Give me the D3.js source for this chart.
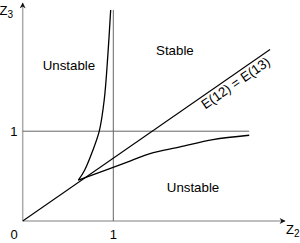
<!DOCTYPE html>
<html>
<head>
<meta charset="utf-8">
<script src="https://cdn.jsdelivr.net/npm/d3@7"></script>
<style>
  body { margin: 0; background: #fff; }
  svg { display: block; font-family: "Liberation Sans", Arial, sans-serif; }
</style>
</head>
<body>
<div id="chart"></div>
<script>
// Stability boundaries in the (z2, z3) plane
var diagonal = [[0, 0], [2.73, 1.91]];          // E(12) = E(13)
var upperCurve = [[0.614, 0.454], [0.68, 0.56], [0.76, 0.75], [0.845, 1.0],
                  [0.90, 1.35], [0.94, 1.85], [0.971, 2.35]];
var lowerCurve = [[0.614, 0.454], [1.184, 0.666], [1.405, 0.751],
                  [1.736, 0.825], [2.10, 0.907], [2.50, 0.955]];
var gridV = [[1, 0], [1, 2.35]];
var gridH = [[0, 1], [2.5, 1]];
var xTicks = ["0", "1"];
var yTicks = ["1"];
var regionLabels = [
  { text: "Unstable", z2: 0.51, z3: 1.68 },
  { text: "Stable",   z2: 1.68, z3: 1.85 },
  { text: "Unstable", z2: 1.88, z3: 0.32 }
];

var width = 300, height = 243;

var x = d3.scaleLinear().domain([0, 1]).range([22.7, 113.3]);
var y = d3.scaleLinear().domain([0, 1]).range([221, 131.2]);

var svg = d3.select("#chart").append("svg")
    .attr("width", width)
    .attr("height", height);

var defs = svg.append("defs");
defs.append("marker")
    .attr("id", "arrow")
    .attr("viewBox", "0 0 10 10")
    .attr("refX", 9).attr("refY", 5)
    .attr("markerWidth", 9).attr("markerHeight", 6)
    .attr("markerUnits", "userSpaceOnUse")
    .attr("orient", "auto")
    .append("path")
    .attr("d", "M0,0 L10,5 L0,10 L3,5 Z")
    .attr("fill", "#111");

var line = d3.line().x(function (d) { return x(d[0]); }).y(function (d) { return y(d[1]); });
var curve = d3.line().curve(d3.curveCatmullRom.alpha(0.5))
    .x(function (d) { return x(d[0]); }).y(function (d) { return y(d[1]); });

// axes
svg.append("line")
    .attr("x1", x(0)).attr("y1", y(0))
    .attr("x2", x(0)).attr("y2", 3)
    .attr("stroke", "#aaa").attr("stroke-width", 1.5)
    .attr("marker-end", "url(#arrow)");
svg.append("line")
    .attr("x1", x(0)).attr("y1", y(0))
    .attr("x2", 285).attr("y2", y(0))
    .attr("stroke", "#aaa").attr("stroke-width", 1.5)
    .attr("marker-end", "url(#arrow)");

// reference lines at 1
svg.append("path").attr("d", line(gridV))
    .attr("fill", "none").attr("stroke", "#666").attr("stroke-width", 1);
svg.append("path").attr("d", line(gridH))
    .attr("fill", "none").attr("stroke", "#666").attr("stroke-width", 1);

// boundaries
svg.append("path").attr("d", line(diagonal))
    .attr("fill", "none").attr("stroke", "#000").attr("stroke-width", 1.1);
svg.append("path").attr("d", curve(upperCurve))
    .attr("fill", "none").attr("stroke", "#000").attr("stroke-width", 1.3);
svg.append("path").attr("d", curve(lowerCurve))
    .attr("fill", "none").attr("stroke", "#000").attr("stroke-width", 1.3);

// tick labels
svg.selectAll(".xtick").data(xTicks).enter().append("text")
    .attr("class", "xtick")
    .attr("x", function (d, i) { return i === 0 ? 14 : x(+d); })
    .attr("y", 239)
    .attr("text-anchor", "middle")
    .style("font-size", "13px")
    .text(function (d) { return d; });
svg.selectAll(".ytick").data(yTicks).enter().append("text")
    .attr("class", "ytick")
    .attr("x", 17.5)
    .attr("y", function (d) { return y(+d) + 4.5; })
    .attr("text-anchor", "end")
    .style("font-size", "13px")
    .text(function (d) { return d; });

// axis titles
var zy = svg.append("text").attr("x", -0.5).attr("y", 15).style("font-size", "13px");
zy.append("tspan").text("Z");
zy.append("tspan").attr("dy", 3).style("font-size", "10px").text("3");
var zx = svg.append("text").attr("x", 286).attr("y", 233.5).style("font-size", "13px");
zx.append("tspan").text("Z");
zx.append("tspan").attr("dy", 3).style("font-size", "10px").text("2");

// region labels
svg.selectAll(".region").data(regionLabels).enter().append("text")
    .attr("class", "region")
    .attr("x", function (d) { return x(d.z2); })
    .attr("y", function (d) { return y(d.z3); })
    .attr("text-anchor", "middle")
    .style("font-size", "13.3px")
    .text(function (d) { return d.text; });

// diagonal label, just below the line
var p0 = [x(diagonal[0][0]), y(diagonal[0][1])],
    p1 = [x(diagonal[1][0]), y(diagonal[1][1])],
    ang = Math.atan2(p1[1] - p0[1], p1[0] - p0[0]) * 180 / Math.PI,
    lz = 2.3;
svg.append("text")
    .attr("transform", "translate(" + x(lz) + "," + y(lz * diagonal[1][1] / diagonal[1][0]) + ") rotate(" + ang + ")")
    .attr("y", 12.5)
    .attr("text-anchor", "middle")
    .style("font-size", "13.3px")
    .text("E(12) = E(13)");
</script>
</body>
</html>
